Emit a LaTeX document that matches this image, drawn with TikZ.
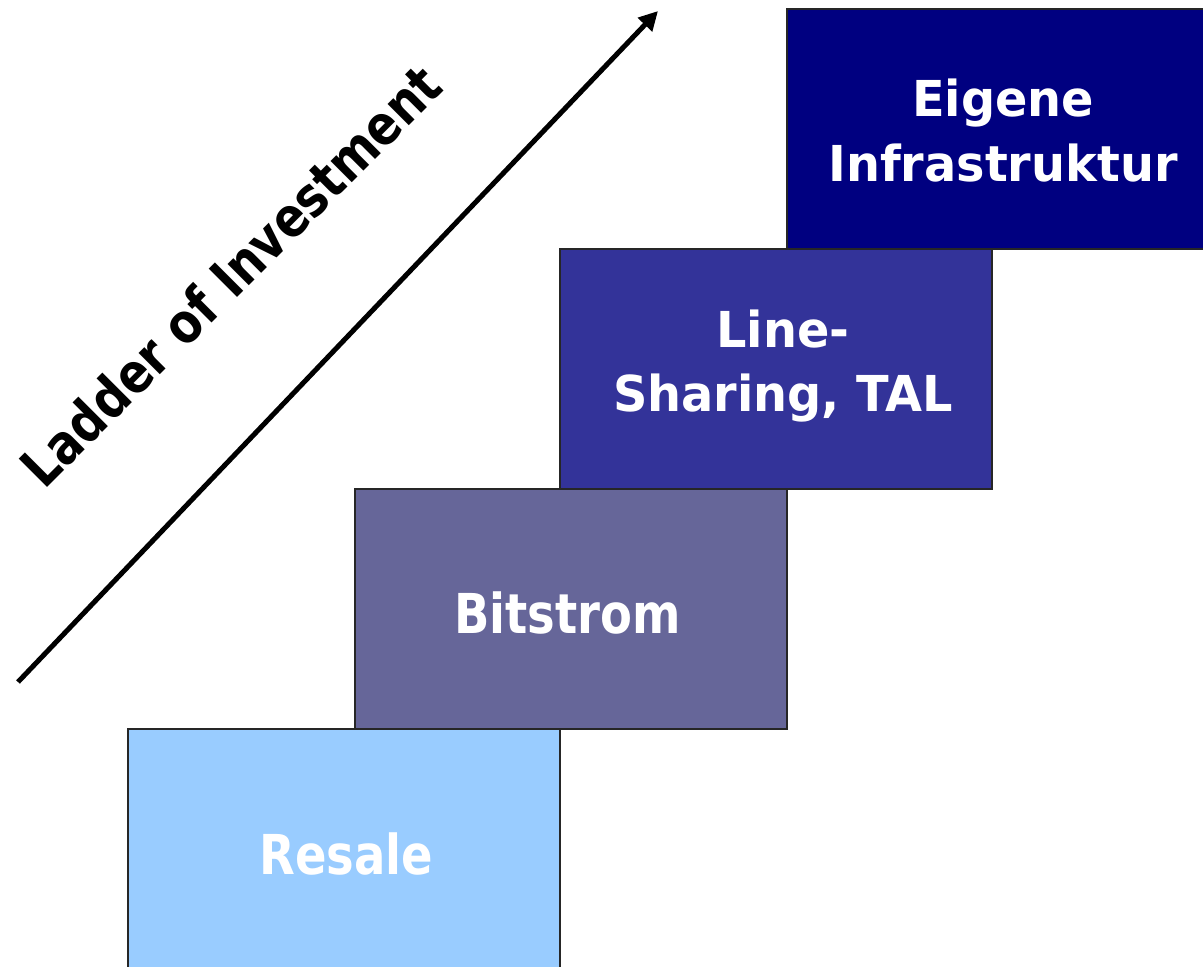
\documentclass[tikz,border=0pt]{standalone}
\usepackage{fontspec}
\setmainfont{DejaVu Sans}
\newfontfamily\lowstepfont[FakeStretch=0.845]{DejaVu Sans}
\newfontfamily\highstepfont[FakeStretch=0.965]{DejaVu Sans}
\newfontfamily\captionfont[FakeStretch=0.85]{DejaVu Sans}
\usetikzlibrary{arrows.meta}

\definecolor{resalefill}{HTML}{99CCFF}
\definecolor{bitstromfill}{HTML}{666699}
\definecolor{linefill}{HTML}{333399}
\definecolor{ownfill}{HTML}{000080}

\tikzset{
  stepbox/.style={draw=black!85, line width=1.5pt, anchor=north west,
    minimum width=432pt, minimum height=240pt, inner sep=0pt},
  steplabel/.style={text=white, font=\lowstepfont\bfseries\fontsize{55}{66}\selectfont,
    inner sep=0pt, align=center},
  smalllabel/.style={text=white, font=\highstepfont\bfseries\fontsize{49.5}{64.5}\selectfont,
    inner sep=0pt, align=center},
  ladderarrow/.style={line width=5pt,
    -{Triangle[length=19pt, width=19pt]}},
}

\begin{document}
\begin{tikzpicture}[x=1pt, y=-1pt]
  \useasboundingbox (0,0) rectangle (1203,967);
  \clip (0,0) rectangle (1203,967);

  % the four steps of the ladder
  \node[stepbox, fill=resalefill]   (resale)   at (127,728) {};
  \node[stepbox, fill=bitstromfill] (bitstrom) at (354,488) {};
  \node[stepbox, fill=linefill]     (lineshr)  at (559,248) {};
  \node[stepbox, fill=ownfill]      (ownnet)   at (786,8)   {};

  % step labels
  \node[steplabel, anchor=base] (resaleT)   at (346.5,874) {Resale};
  \node[steplabel, anchor=base] (bitstromT) at (567.5,633) {Bitstrom};
  \node[smalllabel] (lineshrT) at (783,366) {Line-\\Sharing, TAL};
  \node[smalllabel] (ownnetT)  at (1003,130.7) {Eigene\\Infrastruktur};

  % rising arrow with its caption
  \coordinate (arrowtail) at (18,682);
  \coordinate (arrowtip)  at (658,11);
  \draw[ladderarrow] (arrowtail) -- (arrowtip);
  \node[font=\captionfont\bfseries\fontsize{55}{60}\selectfont, anchor=base, rotate=45,
        inner sep=0pt] (laddercap) at (245,290) {Ladder of Investment};
\end{tikzpicture}
\end{document}
